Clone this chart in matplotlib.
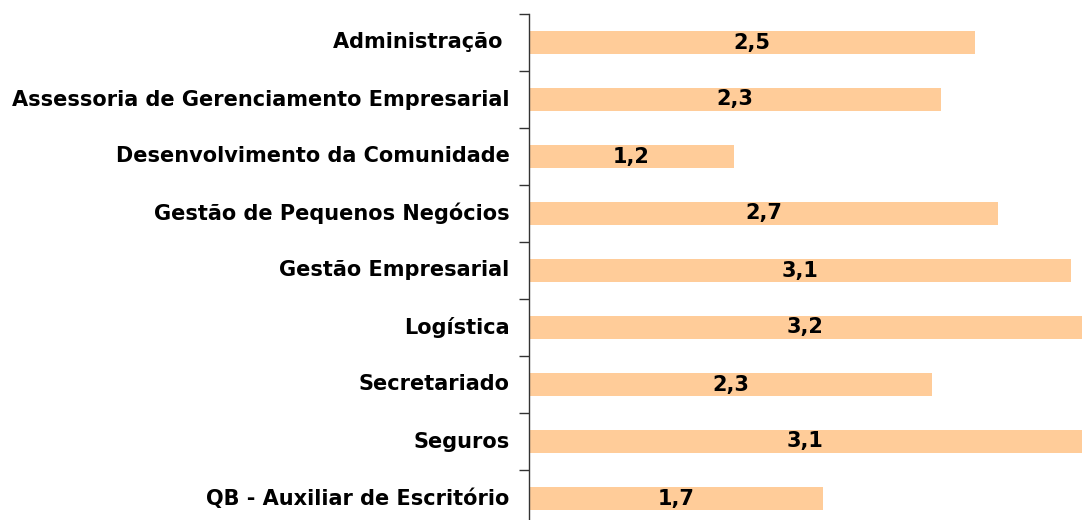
import matplotlib.pyplot as plt
import numpy as np

categories = [
    'Administração ',
    'Assessoria de Gerenciamento Empresarial',
    'Desenvolvimento da Comunidade',
    'Gestão de Pequenos Negócios',
    'Gestão Empresarial',
    'Logística',
    'Secretariado',
    'Seguros',
    'QB - Auxiliar de Escritório',
]
# bar lengths
values = [2.50, 2.31, 1.15, 2.63, 3.04, 3.20, 2.26, 3.12, 1.65]
# value labels as printed on the bars
value_labels = ['2,5', '2,3', '1,2', '2,7', '3,1', '3,2', '2,3', '3,1', '1,7']

BAR_COLOR = '#FFCC99'
X_MAX = 3.10

fig = plt.figure(figsize=(10.82, 5.2), dpi=100)
# axes from the axis line (x=529) to the right edge
ax = fig.add_axes([529 / 1082, 1 - 527 / 520, 1 - 529 / 1082, 513 / 520])

y = np.arange(len(categories))
ax.barh(y, values, height=0.41, color=BAR_COLOR, zorder=2)

ax.set_xlim(0, X_MAX)
ax.set_ylim(len(categories) - 0.5, -0.5)

# value labels centred in the visible part of each bar
for yi, v, lab in zip(y, values, value_labels):
    ax.text(min(v, X_MAX) / 2, yi, lab, ha='center', va='center',
            fontsize=15, fontweight='bold', color='black',
            family='DejaVu Sans')

ax.set_yticks(y)
ax.set_yticklabels(categories, fontsize=15, fontweight='bold',
                   family='DejaVu Sans', va='center')
ax.set_yticks(np.arange(-0.5, len(categories), 1.0), minor=True)
ax.tick_params(axis='y', which='major', length=0, pad=14)
ax.tick_params(axis='y', which='minor', length=7, width=1, color='#333333')

ax.set_xticks([])
for side in ['top', 'right', 'bottom']:
    ax.spines[side].set_visible(False)
ax.spines['left'].set_color('#333333')
ax.spines['left'].set_linewidth(1)

fig.savefig('out.png', dpi=100)
